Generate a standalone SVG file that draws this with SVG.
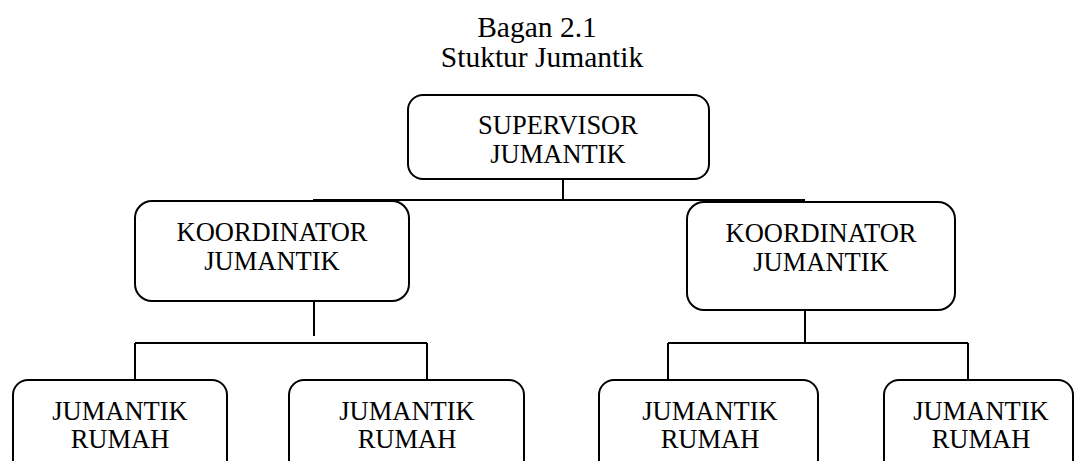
<svg xmlns="http://www.w3.org/2000/svg" width="1078" height="461" viewBox="0 0 1078 461">
<style>
.box{fill:#fff;stroke:#000;stroke-width:2}
.ln{stroke:#000;stroke-width:2;fill:none}
text{font-family:"Liberation Serif","Times New Roman",serif;fill:#000;text-anchor:middle}
.t{font-size:29.5px}
.n{font-size:26.5px}
</style>
<rect width="1078" height="461" fill="#fff"/>
<g id="title">
<text class="t" x="537" y="37">Bagan 2.1</text>
<text class="t" x="542" y="67">Stuktur Jumantik</text>
</g>
<g id="connectors">
<path class="ln" d="M563 179 V200 M313 200 H805"/>
<path class="ln" d="M314 301 V336 M135 343 H427 M135 343 V380 M427 343 V380"/>
<path class="ln" d="M805 310 V343 M668 343 H968 M668 343 V380 M968 343 V380"/>
</g>
<g id="supervisor">
<rect class="box" x="408" y="95" width="301" height="84" rx="15"/>
<text class="n" x="558" y="134">SUPERVISOR</text>
<text class="n" x="558" y="163">JUMANTIK</text>
</g>
<g id="koordinator1">
<rect class="box" x="135" y="201" width="274" height="100" rx="17"/>
<text class="n" x="272" y="241">KOORDINATOR</text>
<text class="n" x="272" y="270">JUMANTIK</text>
</g>
<g id="koordinator2">
<rect class="box" x="687" y="202" width="268" height="108" rx="17"/>
<text class="n" x="821" y="242">KOORDINATOR</text>
<text class="n" x="821" y="271">JUMANTIK</text>
</g>
<g id="rumah1">
<rect class="box" x="13" y="380" width="214" height="100" rx="15"/>
<text class="n" x="120" y="420">JUMANTIK</text>
<text class="n" x="120" y="448">RUMAH</text>
</g>
<g id="rumah2">
<rect class="box" x="289" y="380" width="235" height="100" rx="15"/>
<text class="n" x="407" y="420">JUMANTIK</text>
<text class="n" x="407" y="448">RUMAH</text>
</g>
<g id="rumah3">
<rect class="box" x="599" y="380" width="219" height="100" rx="15"/>
<text class="n" x="710" y="420">JUMANTIK</text>
<text class="n" x="710" y="448">RUMAH</text>
</g>
<g id="rumah4">
<rect class="box" x="884" y="380" width="189" height="100" rx="15"/>
<text class="n" x="981" y="420">JUMANTIK</text>
<text class="n" x="981" y="448">RUMAH</text>
</g>
</svg>
